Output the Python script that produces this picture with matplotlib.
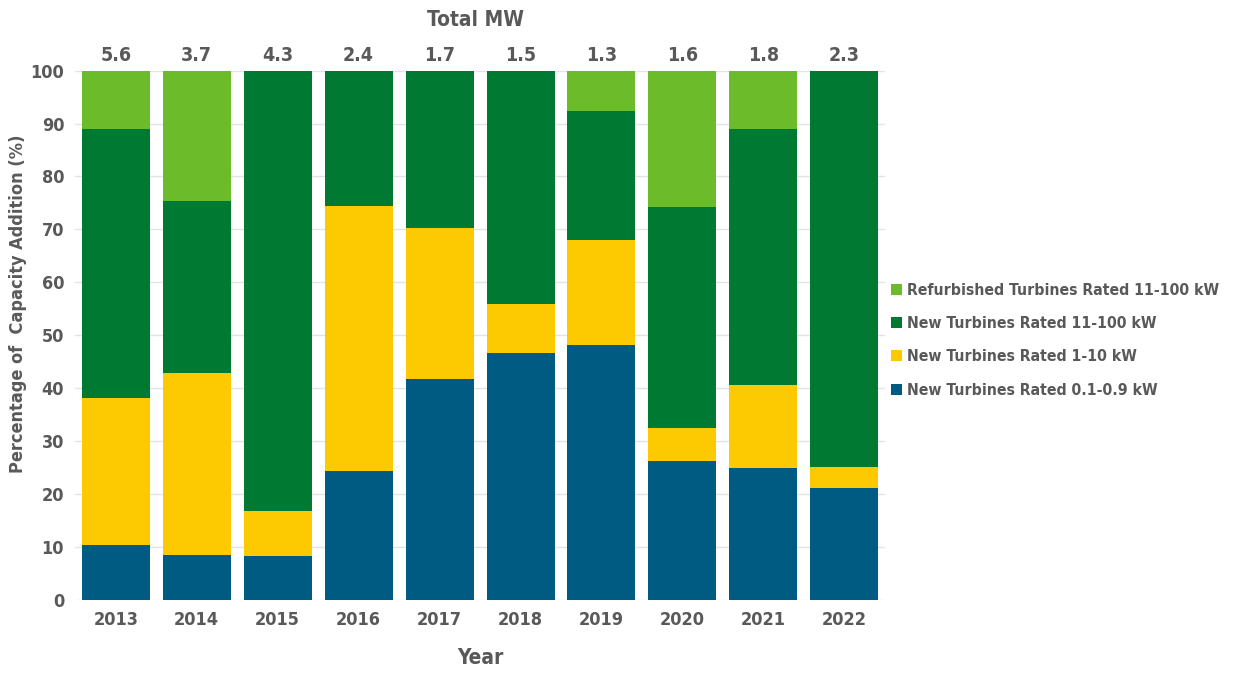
import matplotlib.pyplot as plt
import numpy as np

years = ['2013', '2014', '2015', '2016', '2017', '2018', '2019', '2020', '2021', '2022']
total_mw = ['5.6', '3.7', '4.3', '2.4', '1.7', '1.5', '1.3', '1.6', '1.8', '2.3']

# percent share of each size class, bottom to top
small = [10.3, 8.5, 8.3, 24.3, 41.8, 46.6, 48.2, 26.3, 24.8, 21.1]
mid = [27.9, 34.3, 8.4, 50.1, 28.5, 9.2, 19.7, 6.1, 15.8, 3.9]
large = [50.7, 32.6, 83.3, 25.6, 29.7, 44.2, 24.4, 41.8, 48.4, 75.0]
refurb = [11.1, 24.6, 0, 0, 0, 0, 7.7, 25.8, 11.0, 0]

series = [
    ('New Turbines Rated 0.1-0.9 kW', small, '#005b82'),
    ('New Turbines Rated 1-10 kW', mid, '#fdc900'),
    ('New Turbines Rated 11-100 kW', large, '#007a33'),
    ('Refurbished Turbines Rated 11-100 kW', refurb, '#6bbb2b'),
]

plt.rcParams['font.family'] = ['DejaVu Sans']
plt.rcParams['font.stretch'] = 'condensed'
grey = '#595959'

fig = plt.figure(figsize=(12.34, 6.73), dpi=100)
ax = fig.add_axes([0.061, 0.109, 0.656, 0.786])

x = np.arange(len(years))
bottom = np.zeros(len(years))
handles = []
for name, vals, col in series:
    b = ax.bar(x, vals, 0.84, bottom=bottom, color=col, label=name, zorder=2)
    handles.append(b)
    bottom += np.array(vals)

ax.set_xlim(-0.5, 9.5)
ax.set_ylim(0, 100)
ax.set_yticks(range(0, 101, 10))
ax.set_xticks(x, years)
ax.grid(axis='y', color='#e3e3e3', linewidth=1, zorder=0)
for s in ax.spines.values():
    s.set_visible(False)
ax.tick_params(length=0, labelsize=13, labelcolor=grey, pad=8)
for lab in ax.get_xticklabels() + ax.get_yticklabels():
    lab.set_fontweight('bold')

ax.set_ylabel('Percentage of  Capacity Addition (%)', fontsize=13, fontweight='bold', color=grey)
ax.yaxis.set_label_coords(-0.06, 0.56)
ax.set_xlabel('Year', fontsize=15, fontweight='bold', color=grey, labelpad=14)

for i, t in enumerate(total_mw):
    ax.text(i, 102.8, t, ha='center', va='center', fontsize=14, fontweight='bold', color=grey)
ax.text(4.45, 109.5, 'Total MW', ha='center', va='center', fontsize=15, fontweight='bold', color=grey)

leg = ax.legend(handles[::-1], [s[0] for s in series][::-1], loc='center left',
                bbox_to_anchor=(0.99, 0.49), frameon=False, fontsize=11.3,
                handlelength=0.7, handleheight=0.7, handletextpad=0.35, labelspacing=1.15)
for t in leg.get_texts():
    t.set_color(grey)
    t.set_fontweight('bold')

fig.savefig('out.png', dpi=100)
